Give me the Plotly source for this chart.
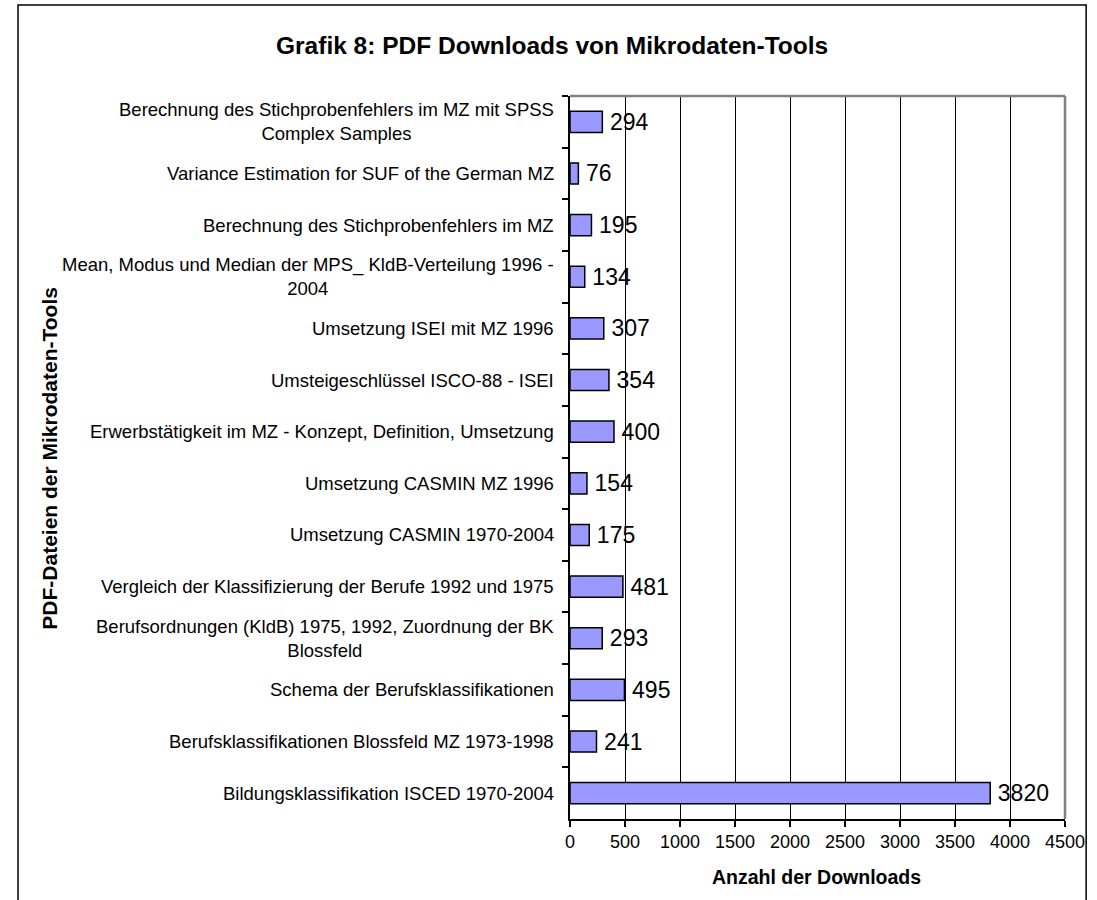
import plotly.graph_objects as go

categories = [
    "Berechnung des Stichprobenfehlers im MZ mit SPSS<br>Complex Samples",
    "Variance Estimation for SUF of the German MZ",
    "Berechnung des Stichprobenfehlers im MZ",
    "Mean, Modus und Median der MPS_ KldB-Verteilung 1996 -<br>2004",
    "Umsetzung ISEI mit MZ 1996",
    "Umsteigeschlüssel ISCO-88 - ISEI",
    "Erwerbstätigkeit im MZ - Konzept, Definition, Umsetzung",
    "Umsetzung CASMIN MZ 1996",
    "Umsetzung CASMIN 1970-2004",
    "Vergleich der Klassifizierung der Berufe 1992 und 1975",
    "Berufsordnungen (KldB) 1975, 1992, Zuordnung der BK<br>Blossfeld",
    "Schema der Berufsklassifikationen",
    "Berufsklassifikationen Blossfeld MZ 1973-1998",
    "Bildungsklassifikation ISCED 1970-2004",
]
downloads = [294, 76, 195, 134, 307, 354, 400, 154, 175, 481, 293, 495, 241, 3820]
x_ticks = [0, 500, 1000, 1500, 2000, 2500, 3000, 3500, 4000, 4500]

title_text = "Grafik 8: PDF Downloads von Mikrodaten-Tools"
x_title = "Anzahl der Downloads"
y_title = "PDF-Dateien der Mikrodaten-Tools"

FONT = "Liberation Sans, Arial, sans-serif"

fig = go.Figure()
fig.add_trace(go.Bar(
    y=categories, x=downloads, orientation="h",
    width=0.41,
    marker=dict(color="#9999FF", line=dict(color="black", width=1.5)),
    texttemplate="\u2009%{x}", textposition="outside",
    textfont=dict(family=FONT, size=23, color="black"),
    constraintext="none",
    cliponaxis=False,
    hoverinfo="x+y",
))

annotations = []
for c in categories:
    annotations.append(dict(
        x=0, xref="paper", y=c, yref="y", text=c, showarrow=False,
        xanchor="right", yanchor="middle", align="center", xshift=-14,
        font=dict(family=FONT, size=18.5, color="black"),
    ))
annotations.append(dict(
    x=-0.0367, xref="paper", y=1.0705, yref="paper", text="<b>" + title_text + "</b>",
    showarrow=False, xanchor="center", yanchor="middle",
    font=dict(family=FONT, size=24.5, color="black"),
))
annotations.append(dict(
    x=0.498, xref="paper", y=-0.0802, yref="paper", text="<b>" + x_title + "</b>",
    showarrow=False, xanchor="center", yanchor="middle",
    font=dict(family=FONT, size=19.5, color="black"),
))
annotations.append(dict(
    x=-1.0516, xref="paper", y=0.499, yref="paper", text="<b>" + y_title + "</b>",
    showarrow=False, xanchor="center", yanchor="middle", textangle=-90,
    font=dict(family=FONT, size=21, color="black"),
))

shapes = [
    dict(type="line", xref="paper", yref="paper", x0=0, x1=1, y0=1, y1=1,
         line=dict(color="#808080", width=2.5), layer="above"),
    dict(type="line", xref="paper", yref="paper", x0=1, x1=1, y0=0, y1=1,
         line=dict(color="#808080", width=2.5), layer="above"),
    dict(type="rect", xref="paper", yref="paper", x0=-1.1151, x1=1.0427, y0=-0.3, y1=1.1259,
         line=dict(color="black", width=1.5), layer="below"),
]

fig.update_layout(
    width=1097, height=900,
    margin=dict(l=570, r=23, t=96, b=81),
    paper_bgcolor="white", plot_bgcolor="white",
    showlegend=False,
    font=dict(family=FONT, color="black"),
    annotations=annotations,
    shapes=shapes,
)
fig.update_xaxes(
    range=[0, 4500], tickvals=x_ticks, ticktext=[str(t) for t in x_ticks],
    showgrid=True, gridcolor="black", gridwidth=1,
    showline=True, linecolor="black", linewidth=1.5,
    ticks="outside", ticklen=6, tickcolor="black", tickwidth=1.5,
    tickfont=dict(family=FONT, size=18, color="black"),
    zeroline=False, fixedrange=True,
)
fig.update_yaxes(
    type="category", autorange="reversed", showticklabels=False,
    showline=True, linecolor="black", linewidth=1.5,
    ticks="outside", ticklen=6, tickcolor="black", tickwidth=1.5,
    tickson="boundaries", showgrid=False, fixedrange=True,
)

fig.write_html(
    "out.html",
    config={"displayModeBar": False},
    post_script="document.body.style.margin='0px';document.body.style.overflow='hidden';",
)
